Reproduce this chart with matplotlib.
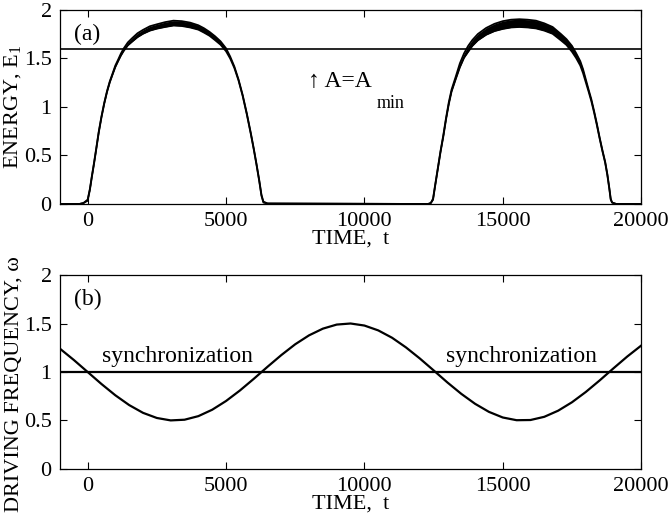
import numpy as np
import matplotlib.pyplot as plt

plt.rcParams['font.family'] = ['Liberation Serif', 'DejaVu Serif']
plt.rcParams['mathtext.fontset'] = 'custom'
plt.rcParams['mathtext.rm'] = 'Liberation Serif'
plt.rcParams['mathtext.it'] = 'Liberation Serif'

# energy E_1: middle of the band and band width (the band is the fast oscillation)
t_energy = [-1000, -300, -150, 0, 80, 150, 230, 300, 400, 500, 600, 700, 800, 900,
            1000, 1100, 1200, 1300, 1450, 1600, 1800, 2000, 2250, 2500, 2800, 3100,
            3400, 3700, 4000, 4200, 4400, 4600, 4800, 5000, 5150, 5300, 5450, 5600,
            5750, 5900, 6000, 6100, 6200, 6280, 6350, 6500,
            12300, 12400, 12480, 12550, 12650, 12750, 12850, 12950, 13050, 13150,
            13300, 13450, 13600, 13750, 13900, 14100, 14400, 14700, 15000, 15300,
            15600, 15900, 16200, 16500, 16800, 17100, 17300, 17500, 17650, 17800,
            17900, 18000, 18100, 18200, 18300, 18400, 18500, 18600, 18700, 18780,
            18850, 18900, 18950, 19100, 20000]
e_mid = [0, 0, 0.01, 0.04, 0.15, 0.28, 0.42, 0.55, 0.74, 0.90, 1.04, 1.16, 1.26, 1.34,
         1.42, 1.48, 1.54, 1.59, 1.65, 1.69, 1.74, 1.775, 1.81, 1.83, 1.85, 1.865,
         1.86, 1.845, 1.82, 1.79, 1.755, 1.71, 1.66, 1.59, 1.51, 1.41, 1.28, 1.12,
         0.93, 0.72, 0.57, 0.41, 0.24, 0.09, 0.02, 0.005,
         0, 0.01, 0.05, 0.18, 0.36, 0.54, 0.70, 0.88, 1.04, 1.17,
         1.30, 1.43, 1.53, 1.60, 1.66, 1.72, 1.78, 1.82, 1.845, 1.86,
         1.865, 1.86, 1.85, 1.825, 1.79, 1.72, 1.67, 1.60, 1.53, 1.45,
         1.37, 1.27, 1.17, 1.07, 0.95, 0.82, 0.68, 0.55, 0.43, 0.30,
         0.16, 0.05, 0.015, 0, 0]
e_width = [0, 0, 0, 0.01, 0.01, 0.01, 0.01, 0.01, 0.01, 0.01, 0.01, 0.01, 0.01, 0.01,
           0.015, 0.015, 0.02, 0.025, 0.03, 0.035, 0.04, 0.04, 0.045, 0.045, 0.05, 0.05,
           0.05, 0.05, 0.045, 0.045, 0.04, 0.04, 0.035, 0.03, 0.02, 0.015, 0.01, 0.01,
           0.01, 0.01, 0.01, 0.01, 0.01, 0.01, 0.01, 0,
           0, 0, 0.01, 0.01, 0.01, 0.01, 0.015, 0.015, 0.02, 0.02,
           0.025, 0.04, 0.045, 0.06, 0.06, 0.065, 0.07, 0.075, 0.08, 0.08,
           0.08, 0.08, 0.08, 0.075, 0.07, 0.065, 0.06, 0.06, 0.05, 0.045,
           0.04, 0.03, 0.02, 0.02, 0.015, 0.015, 0.01, 0.01, 0.01, 0.01,
           0.01, 0.01, 0, 0, 0]
a_min_level = 1.6

# driving frequency omega
t_freq = [-1000, -500, 0, 500, 1000, 1500, 2000, 2500, 3000, 3500, 4000, 4500, 5000,
          5500, 6000, 6500, 7000, 7500, 8000, 8500, 9000, 9500, 10000, 10500, 11000,
          11500, 12000, 12500, 13000, 13500, 14000, 14500, 15000, 15500, 16000,
          16500, 17000, 17500, 18000, 18500, 19000, 19500, 20000]
omega = [1.240, 1.124, 1.0, 0.876, 0.760, 0.659, 0.579, 0.526, 0.501, 0.508, 0.545,
         0.611, 0.701, 0.809, 0.929, 1.054, 1.175, 1.286, 1.378, 1.447, 1.489, 1.500,
         1.479, 1.429, 1.353, 1.254, 1.140, 1.017, 0.892, 0.775, 0.672, 0.589, 0.531,
         0.503, 0.505, 0.538, 0.601, 0.688, 0.794, 0.913, 1.038, 1.160, 1.272]
sync_level = 1.0

xticks = [0, 5000, 10000, 15000, 20000]
yticks = [0, 0.5, 1, 1.5, 2]
yticklabels = ['0', '0.5', '1', '1.5', '2']

e_mid = np.array(e_mid)
e_width = np.array(e_width)
e_upper = e_mid + e_width / 2
e_lower = e_mid - e_width / 2

fs = 16
fig = plt.figure(figsize=(6.68, 5.18), dpi=100)
ax1 = fig.add_axes([0.0898, 0.6062, 0.870, 0.3745])
ax2 = fig.add_axes([0.0898, 0.0946, 0.870, 0.3745])

ax1.fill_between(t_energy, e_lower, e_upper, color='black', lw=0)
ax1.plot(t_energy, e_upper, color='black', lw=1.3)
ax1.plot(t_energy, e_lower, color='black', lw=1.3)
ax1.axhline(a_min_level, color='black', lw=1.2)
ax1.text(-500, 1.75, '(a)', fontsize=17, va='center', ha='left')
ax1.text(7950, 1.21, '\u2191 A=A', fontsize=17, va='baseline', ha='left')
ax1.text(10450, 0.99, 'min', fontsize=13, va='baseline', ha='left')

ax2.plot(t_freq, omega, color='black', lw=1.6)
ax2.axhline(sync_level, color='black', lw=1.6)
ax2.text(-500, 1.75, '(b)', fontsize=17, va='center', ha='left')
ax2.text(3260, 1.1, 'synchronization', fontsize=17, va='baseline', ha='center')
ax2.text(15690, 1.1, 'synchronization', fontsize=17, va='baseline', ha='center')

for ax in (ax1, ax2):
    ax.set_xlim(-1000, 20000)
    ax.set_ylim(0, 2)
    ax.set_xticks(xticks)
    ax.set_xticklabels([str(x) for x in xticks])
    ax.set_yticks(yticks)
    ax.set_yticklabels(yticklabels)
    ax.tick_params(direction='in', top=True, right=True, length=5, width=0.8,
                   labelsize=fs, pad=6)
    ax.set_xlabel('TIME,  t', fontsize=fs, labelpad=-1)
    for s in ax.spines.values():
        s.set_linewidth(0.9)

ax1.set_ylabel('ENERGY, E$_1$', fontsize=fs)
ax2.set_ylabel('DRIVING FREQUENCY, \u03c9', fontsize=fs)
ax1.yaxis.set_label_coords(-0.063, 0.5)
ax2.yaxis.set_label_coords(-0.063, 0.44)

fig.savefig('out.png', dpi=100)
